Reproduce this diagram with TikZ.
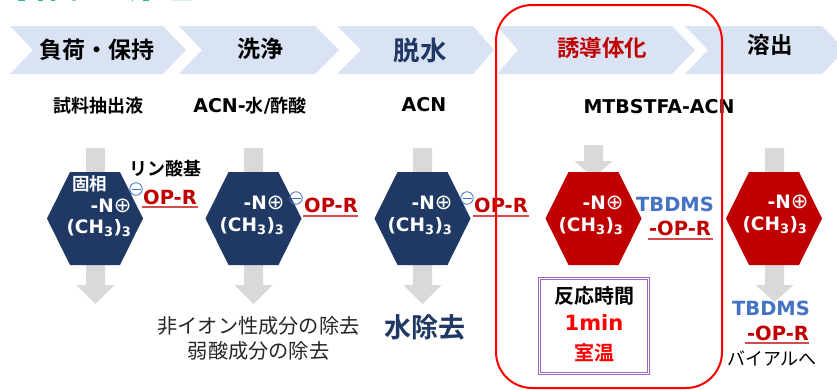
\documentclass[tikz,border=0pt]{standalone}
\usepackage{fontspec}
\setmainfont{Noto Sans CJK JP}[BoldFont={Noto Sans CJK JP Bold}]
\newfontfamily\latinb{DejaVu Sans}[BoldFont={DejaVu Sans Bold}]
\newfontfamily\sym{DejaVu Sans}
\definecolor{chev}{HTML}{DAE3F3}
\definecolor{navy}{HTML}{1F3864}
\definecolor{dred}{HTML}{C00000}
\definecolor{arr}{HTML}{D9D9D9}
\definecolor{tbd}{HTML}{4472C4}
\definecolor{purp}{HTML}{9966BB}
\definecolor{teal1}{HTML}{2CB5A5}
\newcommand{\chevron}[4]{\fill[chev] (#1,26) -- (#3,26) -- (#4,50) -- (#3,74) -- (#1,74) -- (#2,50) -- cycle;}
\newcommand{\hexa}[2]{\fill[#2] (#1-48,218.5) -- (#1-25,172) -- (#1+25,172) -- (#1+48,218.5) -- (#1+25,265) -- (#1-25,265) -- cycle;}
\newcommand{\grayarrow}[4]{\fill[arr] (#1-9.5,#2) -- (#1+9.5,#2) -- (#1+9.5,#3) -- (#1+19,#3) -- (#1,#4) -- (#1-19,#3) -- (#1-9.5,#3) -- cycle;}
\tikzset{
  x=1pt,y=-1pt,
  lbl/.style={inner sep=0pt,font=\bfseries\fontsize{#1}{#1}\selectfont},
  latlbl/.style={inner sep=0pt,font=\latinb\bfseries\fontsize{#1}{#1}\selectfont},
  plain/.style={inner sep=0pt,font=\fontsize{#1}{#1}\selectfont},
  hextxt/.style={inner sep=0pt,text=white,font=\latinb\bfseries\fontsize{18.5}{18.5}\selectfont},
  opr/.style={inner sep=0pt,text=dred,font=\latinb\bfseries\fontsize{19.5}{19.5}\selectfont},
  tb/.style={inner sep=0pt,text=tbd,font=\latinb\bfseries\fontsize{19.5}{19.5}\selectfont},
  minusc/.style={circle,draw=tbd,line width=0.8pt,minimum size=12.5pt,inner sep=0pt,path picture={\draw[tbd,line width=0.8pt] ([xshift=-4.5pt]path picture bounding box.center) -- ([xshift=4.5pt]path picture bounding box.center);}},
  under/.style={line width=1.1pt,dred!70!white}
}
\newcommand{\ntxt}{-N{\sym\fontsize{21}{21}\selectfont\mdseries ⊕}}
\newcommand{\chthree}{(CH\textsubscript{3})\textsubscript{3}}
\begin{document}
\begin{tikzpicture}
\useasboundingbox (0,0) rectangle (837,389);
\fill[white] (0,0) rectangle (837,389);
% cut-off title remnants
\fill[teal1] (18,0) rectangle (25,1.2);
\fill[teal1] (38,0) rectangle (43,1.2);
\fill[teal1] (51,0) rectangle (55,1.2);
\fill[teal1!60] (72,0) rectangle (76,1.2);
\fill[teal1] (132,0) rectangle (133,1.2);
\fill[teal1] (143,0) rectangle (149,1.2);
\fill[teal1!20] (171,0) rectangle (192,1.2);
% chevrons
\chevron{10}{33}{163}{186}
\chevron{179}{202}{315}{339}
\chevron{337}{361}{473}{494}
\chevron{497}{518}{672}{695}
\chevron{685}{708}{822}{845}
\node[lbl=23] (s1) at (97,50) {負荷・保持};
\node[lbl=23] (s2) at (260,49) {洗浄};
\node[lbl=26.5,text=navy] (s3) at (420,50) {脱水};
\node[lbl=22.5,text=dred] (s4) at (602,48) {誘導体化};
\node[lbl=22.5] (s5) at (770,45) {溶出};
% solvents
\node[lbl=18] (v1) at (98,106) {試料抽出液};
\node[lbl=18] (v2) at (250,106) {{\latinb\fontsize{19}{19}\selectfont ACN-}水{\latinb\fontsize{19}{19}\selectfont /}酢酸};
\node[latlbl=19] (v3) at (424,105) {ACN};
\node[latlbl=19] (v4) at (659,107) {MTBSTFA-ACN};
% arrows
\grayarrow{95.5}{148}{285}{304}
\grayarrow{253.5}{148}{285}{304}
\grayarrow{422.5}{148}{285}{304}
\grayarrow{593.5}{145}{161}{178}
\grayarrow{774.5}{148}{285}{302}
% hexagons
\hexa{95}{navy}
\hexa{253.5}{navy}
\hexa{422.5}{navy}
\hexa{593.5}{dred}
\hexa{774}{dred}
% hexagon text
\node[lbl=17.5,text=white] (g) at (89.5,184) {固相};
\node[hextxt] (n1) at (111,206) {\ntxt};
\node[hextxt] (c1) at (99,228) {\chthree};
\node[hextxt] (n2) at (264,203) {\ntxt};
\node[hextxt] (c2) at (252,226) {\chthree};
\node[hextxt] (n3) at (432,203) {\ntxt};
\node[hextxt] (c3) at (420,226) {\chthree};
\node[hextxt] (n4) at (603,203) {\ntxt};
\node[hextxt] (c4) at (591,226) {\chthree};
\node[hextxt] (n5) at (788,202) {\ntxt};
\node[hextxt] (c5) at (775,225) {\chthree};
% minus circles
\node[minusc] (m1) at (136,189) {};
\node[minusc] (m2) at (296,198) {};
\node[minusc] (m3) at (467,198) {};
% labels
\node[lbl=18] (rin) at (165,169) {リン酸基};
\node[opr] (o1) at (170,197) {OP-R};
\node[opr] (o2) at (331,205) {OP-R};
\node[opr] (o3) at (501,205) {OP-R};
\coordinate (u1a) at (142,207); \coordinate (u1b) at (198,207);
\coordinate (u2a) at (303,216); \coordinate (u2b) at (358,216);
\coordinate (u3a) at (473,216); \coordinate (u3b) at (529,216);
\coordinate (u4a) at (648,239); \coordinate (u4b) at (713,239);
\coordinate (u5a) at (745,343); \coordinate (u5b) at (809,343);
\draw[under] (u1a) -- (u1b);
\draw[under] (u2a) -- (u2b);
\draw[under] (u3a) -- (u3b);
\draw[under] (u4a) -- (u4b);
\draw[under] (u5a) -- (u5b);
\node[tb] (t4) at (675,204) {TBDMS};
\node[opr] (o4) at (680,228) {-OP-R};
\node[tb] (t5) at (771,308) {TBDMS};
\node[opr] (o5) at (778,333) {-OP-R};
\node[plain=18,text=black] (via) at (772,358) {バイアルへ};
\node[plain=20.2,text=black!85] (r1) at (258.5,326) {非イオン性成分の除去};
\node[plain=20.2,text=black!85] (r2) at (258.5,351) {弱酸成分の除去};
\node[lbl=27,text=navy] (r3) at (425,327) {水除去};
% purple box
\node[draw=purp,double=white,double distance=1.2pt,line width=0.7pt,minimum width=109pt,minimum height=95pt,inner sep=0pt] (box) at (594,326) {};
\node[lbl=20] (b1) at (594,296) {反応時間};
\node[latlbl=21,text=red] (b2) at (594,323) {1min};
\node[lbl=20,text=red] (b3) at (594,353) {室温};
% red frame
\draw[red,line width=2pt,rounded corners=36pt] (496,5) rectangle (722,388);
\end{tikzpicture}
\end{document}
